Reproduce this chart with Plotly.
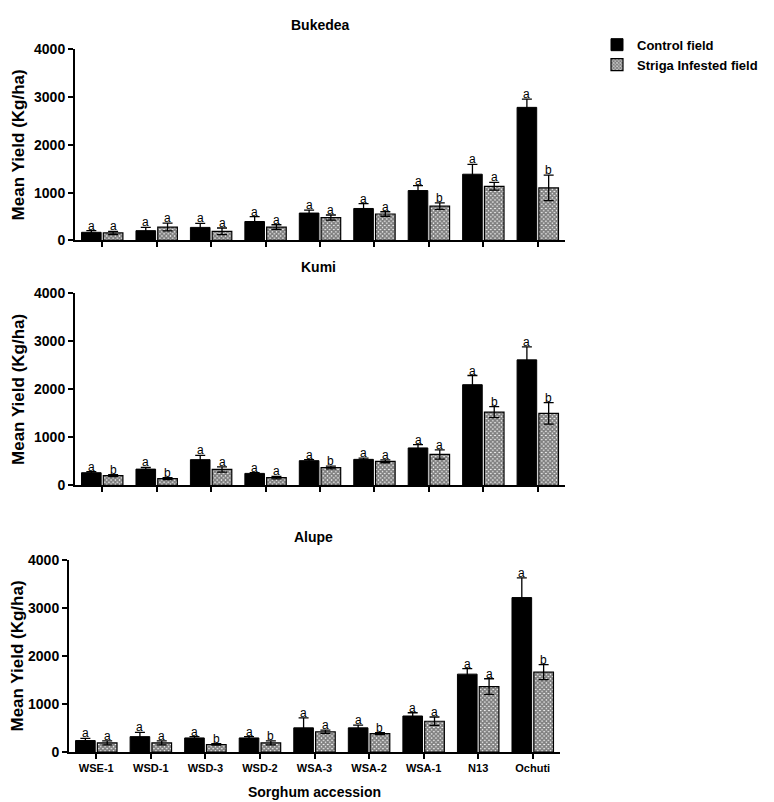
import plotly.graph_objects as go

categories = ["WSE-1", "WSD-1", "WSD-3", "WSD-2", "WSA-3", "WSA-2", "WSA-1", "N13", "Ochuti"]
sites = ["Bukedea", "Kumi", "Alupe"]

bukedea_control = [170, 205, 273, 396, 573, 669, 1044, 1386, 2785]
bukedea_control_err = [35, 68, 82, 102, 62, 102, 103, 204, 171]
bukedea_striga = [157, 280, 190, 280, 478, 553, 717, 1133, 1099]
bukedea_striga_err = [33, 82, 70, 48, 54, 47, 68, 82, 266]
bukedea_control_letters = ["a"] * 9
bukedea_striga_letters = ["a", "a", "a", "a", "a", "a", "b", "a", "b"]

kumi_control = [265, 340, 537, 251, 516, 543, 781, 2098, 2615]
kumi_control_err = [20, 34, 88, 15, 20, 25, 68, 191, 271]
kumi_striga = [204, 143, 333, 163, 374, 503, 645, 1528, 1501]
kumi_striga_err = [20, 20, 54, 25, 30, 30, 95, 115, 224]
kumi_control_letters = ["a"] * 9
kumi_striga_letters = ["b", "b", "a", "a", "b", "a", "a", "b", "b"]

alupe_control = [239, 320, 293, 293, 504, 504, 750, 1622, 3216]
alupe_control_err = [47, 89, 27, 27, 205, 55, 68, 116, 409]
alupe_striga = [191, 191, 157, 191, 422, 382, 641, 1363, 1663]
alupe_striga_err = [41, 41, 15, 41, 35, 20, 88, 163, 156]
alupe_control_letters = ["a"] * 9
alupe_striga_letters = ["a", "a", "b", "b", "a", "b", "a", "a", "b"]

data = [
    (bukedea_control, bukedea_control_err, bukedea_striga, bukedea_striga_err,
     bukedea_control_letters, bukedea_striga_letters),
    (kumi_control, kumi_control_err, kumi_striga, kumi_striga_err,
     kumi_control_letters, kumi_striga_letters),
    (alupe_control, alupe_control_err, alupe_striga, alupe_striga_err,
     alupe_control_letters, alupe_striga_letters),
]

W, H = 774, 802
# pixel geometry: (x_left, x_right, y_top, y_bottom)
panels = [(67, 557, 34, 229), (67, 557, 283, 479), (61, 552, 555, 751)]
title_pos = [(312, 9), (310, 256), (305, 532)]

FONT = "Liberation Sans, Arial, sans-serif"
fig = go.Figure()

for i, (ctrl, cerr, strg, serr, cl, sl) in enumerate(data):
    xa = "x" if i == 0 else f"x{i+1}"
    ya = "y" if i == 0 else f"y{i+1}"
    fig.add_trace(go.Bar(
        x=categories, y=ctrl, name="Control field", showlegend=(i == 0),
        xaxis=xa, yaxis=ya,
        marker=dict(color="black", line=dict(color="black", width=1)),
        error_y=dict(type="data", array=cerr, color="black", thickness=1.3, width=5),
    ))
    fig.add_trace(go.Bar(
        x=categories, y=strg, name="Striga Infested field", showlegend=(i == 0),
        xaxis=xa, yaxis=ya,
        marker=dict(color="white", line=dict(color="black", width=1.2),
                    pattern=dict(shape="x", fgcolor="black", bgcolor="white",
                                 size=3, solidity=0.8)),
        error_y=dict(type="data", array=serr, color="black", thickness=1.3, width=5),
    ))
    for j in range(len(categories)):
        for off, vals, errs, lets in ((-0.2, ctrl, cerr, cl), (0.2, strg, serr, sl)):
            fig.add_annotation(
                x=j + off, y=vals[j] + errs[j], xref=xa, yref=ya,
                text=lets[j], showarrow=False, yanchor="bottom", yshift=-4,
                font=dict(family=FONT, size=12, color="#000000"),
            )
    xl, xr, yt, yb = panels[i]
    axx = dict(
        domain=[xl / W, xr / W], anchor=ya, type="category",
        showline=True, linecolor="black", linewidth=2,
        ticks="outside", ticklen=5, tickwidth=2, tickcolor="black",
        showgrid=False, zeroline=False,
        showticklabels=(i == 2),
        tickfont=dict(family=FONT, size=11, color="black", weight="bold"),
        range=[-0.5, 8.5],
    )
    axy = dict(
        domain=[1 - yb / H, 1 - yt / H], anchor=xa,
        range=[0, 4000], dtick=1000, tick0=0,
        showline=True, linecolor="black", linewidth=2,
        ticks="outside", ticklen=5, tickwidth=2, tickcolor="black",
        showgrid=False, zeroline=False,
        tickfont=dict(family=FONT, size=14, color="black", weight="bold"),
        title=dict(text="Mean Yield (Kg/ha)", standoff=5,
                   font=dict(family=FONT, size=17, color="black", weight="bold")),
    )
    if i == 2:
        axx["title"] = dict(text="Sorghum accession", standoff=14,
                            font=dict(family=FONT, size=14, color="black", weight="bold"))
    fig.update_layout(**{("xaxis" if i == 0 else f"xaxis{i+1}"): axx,
                         ("yaxis" if i == 0 else f"yaxis{i+1}"): axy})
    tx, ty = title_pos[i]
    fig.add_annotation(x=tx / W, y=1 - ty / H, xref="paper", yref="paper",
                       text=f"<b>{sites[i]}</b>", showarrow=False,
                       xanchor="center", yanchor="middle",
                       font=dict(family=FONT, size=14, color="black"))

fig.update_layout(
    width=W, height=H, margin=dict(l=0, r=0, t=0, b=0),
    plot_bgcolor="white", paper_bgcolor="white",
    barmode="group", bargap=0.2, bargroupgap=0.1,
    legend=dict(x=589 / W, y=1 - 14 / H, xanchor="left", yanchor="top",
                font=dict(family=FONT, size=13, color="black", weight="bold"),
                tracegroupgap=0, bgcolor="rgba(0,0,0,0)"),
    font=dict(family=FONT),
)

fig.write_html("out.html")
